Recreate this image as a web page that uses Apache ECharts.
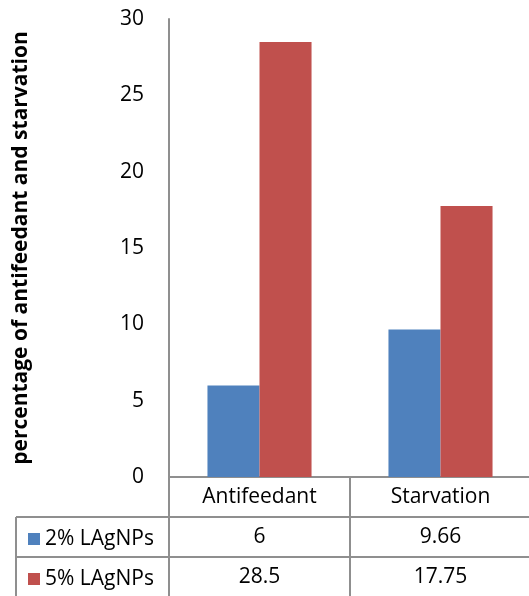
<!DOCTYPE html>
<html>
<head>
<meta charset="utf-8">
<script src="https://cdn.jsdelivr.net/npm/echarts@6/dist/echarts.min.js"></script>
<style>
  html, body { margin: 0; padding: 0; background: #ffffff; }
  #chart { width: 529px; height: 596px; }
</style>
</head>
<body>
<div id="chart"></div>
<script>
// Categories and series values
const categories = ['Antifeedant', 'Starvation'];
const seriesNames = ['2% LAgNPs', '5% LAgNPs'];
const values2pct = [6, 9.66];
const values5pct = [28.5, 17.75];
const yTicks = { min: 0, max: 30, interval: 5 };

const FONT = 'Open Sans';
const LINE = '#8f8f8f';
const BLUE = '#4f81bd';
const RED = '#c0504d';
const FS = 21;

// plot frame
const GRID_LEFT = 169, GRID_TOP = 19, GRID_BOTTOM = 119, ROW_H = 40;
const W = 529, H = 596;
const baseY = H - GRID_BOTTOM;

function tableAxis(offset, formatter) {
  return {
    type: 'category',
    data: categories,
    position: 'bottom',
    offset: offset,
    axisLine: { show: true, lineStyle: { color: LINE, width: 2 } },
    axisTick: { show: true, length: ROW_H, lineStyle: { color: LINE, width: 2 } },
    axisLabel: {
      show: true, margin: 20, verticalAlign: 'middle',
      fontFamily: FONT, fontSize: FS, color: '#000',
      formatter: formatter
    },
    splitLine: { show: false }
  };
}

// one key entry per table row
function keyLegend(name, row) {
  return {
    orient: 'vertical',
    left: 23, top: baseY + ROW_H * row + 5,
    itemWidth: 12, itemHeight: 12, itemGap: 0,
    icon: 'rect',
    textStyle: { fontFamily: FONT, fontSize: FS, color: '#000', lineHeight: 24 },
    data: [name],
    selectedMode: false
  };
}

const chart = echarts.init(document.getElementById('chart'), null, { renderer: 'canvas' });
chart.setOption({
  backgroundColor: '#ffffff',
  animation: false,
  textStyle: { fontFamily: FONT },
  grid: {
    left: GRID_LEFT, right: -2, top: GRID_TOP, bottom: GRID_BOTTOM,
    containLabel: false, outerBoundsMode: 'none'
  },
  legend: [keyLegend(seriesNames[0], 1), keyLegend(seriesNames[1], 2)],
  xAxis: [
    tableAxis(0, null),
    tableAxis(ROW_H, (v, i) => String(values2pct[i])),
    tableAxis(ROW_H * 2, (v, i) => String(values5pct[i]))
  ],
  yAxis: {
    type: 'value',
    min: yTicks.min, max: yTicks.max, interval: yTicks.interval,
    name: 'percentage of antifeedant and starvation',
    nameLocation: 'middle',
    nameGap: 137,
    nameTextStyle: { fontFamily: FONT, fontSize: 21, fontWeight: 'bold', color: '#000' },
    axisLine: { show: true, lineStyle: { color: LINE, width: 2 } },
    axisTick: { show: false },
    splitLine: { show: false },
    axisLabel: { margin: 25, fontFamily: FONT, fontSize: FS, color: '#000' }
  },
  series: [
    { name: seriesNames[0], type: 'bar', data: values2pct, itemStyle: { color: BLUE },
      barGap: '0%', barCategoryGap: '42.5%' },
    { name: seriesNames[1], type: 'bar', data: values5pct, itemStyle: { color: RED },
      barGap: '0%', barCategoryGap: '42.5%' }
  ],
  graphic: [
    // left section of the data table (series key column)
    { type: 'line', shape: { x1: 16, y1: baseY + ROW_H, x2: GRID_LEFT, y2: baseY + ROW_H },
      style: { stroke: LINE, lineWidth: 2 } },
    { type: 'line', shape: { x1: 16, y1: baseY + ROW_H * 2, x2: GRID_LEFT, y2: baseY + ROW_H * 2 },
      style: { stroke: LINE, lineWidth: 2 } },
    { type: 'line', shape: { x1: 16, y1: baseY + ROW_H, x2: 16, y2: H },
      style: { stroke: LINE, lineWidth: 2 } }
  ]
});
</script>
</body>
</html>
